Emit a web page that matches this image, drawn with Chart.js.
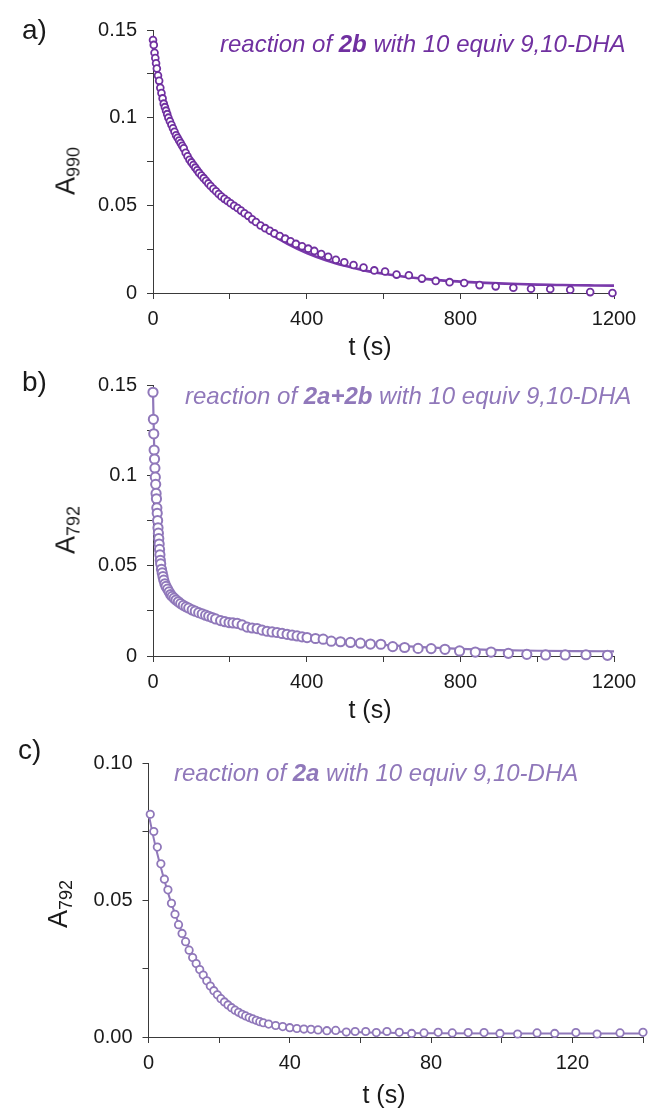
<!DOCTYPE html>
<html>
<head>
<meta charset="utf-8">
<script src="https://cdn.jsdelivr.net/npm/chart.js@4.4.0/dist/chart.umd.min.js"></script>
<style>
body { margin:0; background:#fff; width:651px; height:1108px; position:relative; overflow:hidden; font-family:"Liberation Sans", Arial, sans-serif; color:#1a1a1a; }
canvas { position:absolute; left:0; }
.lbl { position:absolute; font-size:28px; line-height:28px; }
.note { position:absolute; font-style:italic; font-size:24px; line-height:24px; white-space:nowrap; }
.ytitle { position:absolute; font-size:27px; line-height:27px; white-space:nowrap; transform:translate(-50%,-50%) rotate(-90deg); }
.ytitle sub { font-size:18px; vertical-align:-5px; }
.xtitle { position:absolute; font-size:25px; line-height:25px; white-space:nowrap; transform:translateX(-50%); }
</style>
</head>
<body>
<canvas id="ca" width="651" height="340" style="top:0px"></canvas>
<canvas id="cb" width="651" height="345" style="top:355px"></canvas>
<canvas id="cc" width="651" height="375" style="top:733px"></canvas>

<div class="lbl" style="left:22px;top:16px">a)</div>
<div class="lbl" style="left:22px;top:368px">b)</div>
<div class="lbl" style="left:18px;top:736px">c)</div>

<div class="note" style="left:220px;top:32px;color:#7030a0">reaction of <b>2b</b> with 10 equiv 9,10-DHA</div>
<div class="note" style="left:185px;top:384px;color:#9078ba">reaction of <b>2a+2b</b> with 10 equiv 9,10-DHA</div>
<div class="note" style="left:174px;top:761px;color:#9078ba">reaction of <b>2a</b> with 10 equiv 9,10-DHA</div>

<div class="ytitle" style="left:70px;top:171px">A<sub>990</sub></div>
<div class="ytitle" style="left:70px;top:530px">A<sub>792</sub></div>
<div class="ytitle" style="left:62px;top:904px">A<sub>792</sub></div>

<div class="xtitle" style="left:370px;top:334px">t (s)</div>
<div class="xtitle" style="left:370px;top:697px">t (s)</div>
<div class="xtitle" style="left:384px;top:1082px">t (s)</div>

<script>
// panel a: 2b
var aT = [0,2,4,6,8,10,13,16,19,22,25,28,31,34,37,40,44,48,52,56,60,64,68,72,76,80,85,90,95,100,105,110,115,120,126,132,138,144,150,157,164,171,178,186,194,202,211,220,229,238,248,258,268,280,292,304,316,330,344,358,372,388,404,420,438,456,476,498,522,548,576,604,634,666,700,736,772,810,850,892,938,984,1034,1086,1138,1196]
var aA = [0.1443,0.1415,0.137,0.134,0.131,0.128,0.124,0.121,0.117,0.114,0.111,0.108,0.106,0.104,0.102,0.100,0.098,0.096,0.094,0.092,0.090,0.0885,0.087,0.0855,0.084,0.0825,0.080,0.078,0.076,0.0745,0.073,0.0715,0.070,0.0685,0.067,0.0655,0.064,0.0625,0.061,0.0595,0.058,0.0565,0.055,0.0537,0.0525,0.0512,0.0498,0.0485,0.047,0.0455,0.044,0.042,0.0405,0.0385,0.037,0.0355,0.034,0.0325,0.031,0.0295,0.028,0.0266,0.0253,0.024,0.0222,0.0207,0.019,0.0175,0.016,0.0145,0.0129,0.0123,0.0105,0.0101,0.0082,0.0069,0.0062,0.0057,0.0045,0.0038,0.0030,0.0024,0.0023,0.0019,0.0005,0.0]
var aFitT = [0,10,20,30,40,60,80,100,130,160,200,250,300,350,400,450,500,550,600,650,700,750,800,850,900,950,1000,1050,1100,1150,1200]
var aFitA = [0.142,0.129,0.118,0.109,0.101,0.089,0.080,0.073,0.065,0.058,0.051,0.0425,0.0345,0.028,0.0228,0.0187,0.0155,0.0129,0.0110,0.0094,0.0082,0.0072,0.0065,0.0059,0.0055,0.0051,0.0048,0.0046,0.0044,0.0043,0.0042]

// panel b: 2a+2b
var bT = [0,1,2,3,4,5,6,7,8,9,10,11,12,13,14,15,16,17,18,19,20,22,24,26,28,31,34,38,42,46,50,55,60,66,72,79,86,93,102,110,119,128,137,145,154,163,176,187,198,208,219,232,245,258,271,284,297,310,323,336,349,362,375,388,401,423,443,464,488,514,540,566,593,624,655,690,724,760,798,839,880,925,973,1022,1073,1127,1183]
var bA = [0.146,0.131,0.123,0.114,0.109,0.104,0.099,0.095,0.090,0.087,0.082,0.079,0.075,0.071,0.068,0.065,0.062,0.059,0.056,0.053,0.051,0.048,0.046,0.044,0.042,0.040,0.0385,0.037,0.0355,0.034,0.033,0.032,0.031,0.030,0.029,0.028,0.0272,0.0265,0.0255,0.0248,0.024,0.0233,0.0226,0.022,0.0213,0.0205,0.0196,0.019,0.0185,0.0183,0.0181,0.0172,0.016,0.0155,0.0152,0.0143,0.0137,0.0133,0.013,0.0125,0.012,0.0115,0.0111,0.0106,0.0102,0.0097,0.0093,0.0082,0.0079,0.0075,0.0071,0.0066,0.0065,0.0052,0.0047,0.0042,0.0041,0.0037,0.0028,0.0022,0.0022,0.0015,0.0009,0.0006,0.0006,0.0007,0.0004]
var bFitT = [0,3,6,9,12,15,18,21,25,30,35,40,50,60,80,100,130,160,200,250,300,350,400,450,500,600,700,800,900,1000,1100,1200]
var bFitA = [0.146,0.116,0.098,0.086,0.074,0.065,0.057,0.050,0.045,0.0405,0.0375,0.0355,0.0325,0.0305,0.0277,0.0254,0.0228,0.0208,0.0186,0.016,0.0138,0.012,0.0104,0.009,0.0079,0.0062,0.0049,0.0039,0.0033,0.0029,0.0027,0.0026]

// panel c: 2a
var cT = [0.5,1.5,2.5,3.5,4.5,5.5,6.5,7.5,8.5,9.5,10.5,11.5,12.5,13.5,14.5,15.5,16.5,17.5,18.5,19.5,20.5,21.5,22.5,23.5,24.5,25.5,26.5,27.5,28.5,29.5,30.5,31.5,32.5,34,36,38,40,42,44,46,48,50.5,53,56,58.5,61.5,64.5,67.5,71,74.5,78,82,86,90.5,95,99.5,104.5,110,115,121,127,133.5,140]
var cA = [0.0813,0.0750,0.0693,0.0632,0.0576,0.0537,0.0488,0.0448,0.0410,0.0378,0.0348,0.0317,0.0290,0.0268,0.0246,0.0226,0.0205,0.0186,0.0169,0.0154,0.0140,0.0128,0.0117,0.0107,0.0098,0.0090,0.0083,0.0077,0.0071,0.0066,0.0061,0.0056,0.0052,0.0047,0.0042,0.0038,0.0034,0.0031,0.0029,0.0028,0.0026,0.0023,0.0024,0.0018,0.0020,0.0020,0.0016,0.0020,0.0017,0.0013,0.0015,0.0017,0.0015,0.0016,0.0016,0.0013,0.0011,0.0015,0.0013,0.0016,0.0011,0.0015,0.0017]
var cFitT = [0,2,4,6,8,10,12,14,16,18,20,22,24,26,28,30,32,35,40,45,50,60,70,80,100,120,140]
var cFitA = [0.0815,0.0695,0.0595,0.0507,0.0432,0.0366,0.0310,0.0264,0.0224,0.0190,0.0160,0.0136,0.0115,0.0097,0.0083,0.0071,0.0060,0.0048,0.0035,0.0027,0.0022,0.0017,0.0015,0.0014,0.0013,0.0013,0.0013]

// ticks (every tick gets a mark, only some get a label)
var abYTicks = [0,0.025,0.05,0.075,0.1,0.125,0.15]
var abYLabels = ['0','','0.05','','0.1','','0.15']
var abXTicks = [0,200,400,600,800,1000,1200]
var abXLabels = ['0','','400','','800','','1200']
var cYTicks = [0,0.025,0.05,0.075,0.1]
var cYLabels = ['0.00','','0.05','','0.10']
var cXTicks = [0,20,40,60,80,100,120,140]
var cXLabels = ['0','','40','','80','','120','']

function pts(xs, ys) {
    return xs.map(function (x, i) { return { x: x, y: ys[i] } })
}

function panel(id, o) {
    var font = { family: '"Liberation Sans", Arial, sans-serif', size: 20 }
    var grid = { drawOnChartArea: false, drawTicks: true, tickLength: 6, color: '#3a3a3a', lineWidth: 1 }
    new Chart(document.getElementById(id), {
        type: 'scatter',
        data: {
            datasets: [{
                data: pts(o.t, o.a),
                showLine: false,
                pointRadius: o.r,
                pointBorderWidth: o.bw,
                pointBorderColor: o.color,
                pointBackgroundColor: '#fff',
                clip: false,
                order: 0
            }, {
                data: pts(o.ft, o.fa),
                showLine: true,
                pointRadius: 0,
                borderColor: o.lineColor,
                borderWidth: o.lw,
                cubicInterpolationMode: 'monotone',
                clip: false,
                order: 1
            }]
        },
        options: {
            responsive: false,
            animation: false,
            events: [],
            layout: { padding: o.pad },
            plugins: { legend: { display: false }, tooltip: { enabled: false } },
            scales: {
                x: {
                    type: 'linear', min: o.xTicks[0], max: o.xTicks[o.xTicks.length - 1],
                    grid: grid,
                    border: { display: true, color: '#3a3a3a', width: 1 },
                    ticks: {
                        color: '#1a1a1a', font: font, padding: 8, autoSkip: false, maxRotation: 0,
                        callback: function (v, i) { return o.xLabels[i] }
                    },
                    afterBuildTicks: function (s) { s.ticks = o.xTicks.map(function (v) { return { value: v } }) },
                    afterFit: function (s) { s.height = 40 }
                },
                y: {
                    type: 'linear', min: o.yTicks[0], max: o.yTicks[o.yTicks.length - 1],
                    grid: grid,
                    border: { display: true, color: '#3a3a3a', width: 1 },
                    ticks: {
                        color: '#1a1a1a', font: font, padding: 10, autoSkip: false,
                        callback: function (v, i) { return o.yLabels[i] }
                    },
                    afterBuildTicks: function (s) { s.ticks = o.yTicks.map(function (v) { return { value: v } }) },
                    afterFit: function (s) { s.width = 70 }
                }
            }
        }
    })
}

panel('ca', {
    t: aT, a: aA, ft: aFitT, fa: aFitA,
    color: '#7030a0', lineColor: '#7a3aab', r: 3.4, bw: 1.8, lw: 2.6,
    xTicks: abXTicks, xLabels: abXLabels, yTicks: abYTicks, yLabels: abYLabels,
    pad: { top: 30, left: 83, right: 37, bottom: 7 }
})
panel('cb', {
    t: bT, a: bA, ft: bFitT, fa: bFitA,
    color: '#9078ba', lineColor: '#9078ba', r: 4.6, bw: 2, lw: 2.2,
    xTicks: abXTicks, xLabels: abXLabels, yTicks: abYTicks, yLabels: abYLabels,
    pad: { top: 30, left: 83, right: 37, bottom: 4 }
})
panel('cc', {
    t: cT, a: cA, ft: cFitT, fa: cFitA,
    color: '#9078ba', lineColor: '#9078ba', r: 3.7, bw: 1.8, lw: 2,
    xTicks: cXTicks, xLabels: cXLabels, yTicks: cYTicks, yLabels: cYLabels,
    pad: { top: 30, left: 78.5, right: 6, bottom: 31 }
})
</script>
</body>
</html>
